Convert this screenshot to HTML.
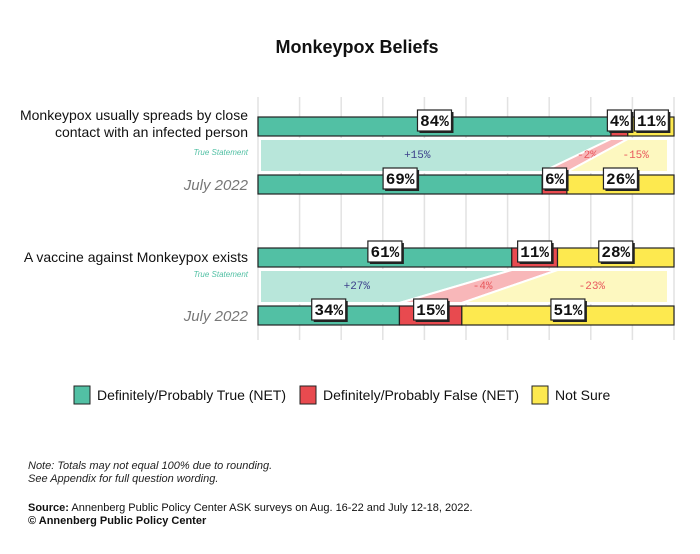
<!DOCTYPE html>
<html><head><meta charset="utf-8"><style>
body{margin:0;background:#fff;width:700px;height:549px;overflow:hidden;font-family:"Liberation Sans",sans-serif}
</style></head><body>
<svg id="c" width="700" height="549" viewBox="0 0 700 549" xmlns="http://www.w3.org/2000/svg">
<text x="357" y="53" text-anchor="middle" font-size="18" font-weight="bold" fill="#111">Monkeypox Beliefs</text>
<g id="grid"></g><g id="bands"></g><g id="bars"></g><g id="labels"></g>
<g font-size="14" fill="#111">
<rect x="74" y="386" width="16" height="18" fill="#52c0a4" stroke="#222"/>
<text x="97" y="400" textLength="189">Definitely/Probably True (NET)</text>
<rect x="300" y="386" width="16" height="18" fill="#e84a4f" stroke="#222"/>
<text x="323" y="400" textLength="196">Definitely/Probably False (NET)</text>
<rect x="532" y="386" width="16" height="18" fill="#fde94f" stroke="#222"/>
<text x="555" y="400">Not Sure</text>
</g>
<text x="28" y="469" font-size="11" font-style="italic" fill="#222">Note: Totals may not equal 100% due to rounding.</text>
<text x="28" y="482" font-size="11" font-style="italic" fill="#222">See Appendix for full question wording.</text>
<text x="28" y="511" font-size="11" fill="#111"><tspan font-weight="bold">Source:</tspan> Annenberg Public Policy Center ASK surveys on Aug. 16-22 and July 12-18, 2022.</text>
<text x="28" y="524" font-size="11" font-weight="bold" fill="#111">© Annenberg Public Policy Center</text>
</svg>
<script>
const questions=["Monkeypox usually spreads by close|contact with an infected person","A vaccine against Monkeypox exists"];
const aug=[[84,4,11],[61,11,28]];
const july=[[69,6,26],[34,15,51]];
const deltas=[["+15%","-2%","-15%"],["+27%","-4%","-23%"]];
const ticks=[0,10,20,30,40,50,60,70,80,90,100];
const NS="http://www.w3.org/2000/svg";
const X0=258,W=416;
const x=v=>X0+v/100*W;
const norm=a=>{const s=a.reduce((p,q)=>p+q,0);return a.map(v=>v*100/s);};
const cols=["#52c0a4","#e84a4f","#fde94f"],bandCols=["#b8e6da","#f8b7b9","#fdf8c0"],dCols=["#3b3f8a","#e8585d","#e8585d"];
function mk(p,tag,at){const e=document.createElementNS(NS,tag);for(const k in at)e.setAttribute(k,at[k]);document.getElementById(p).appendChild(e);return e;}
ticks.forEach(t=>{const l=mk('grid','line',{x1:x(t),x2:x(t),y1:97,y2:340,stroke:'#e2e2e2','stroke-width':1.5});

});
const rows=[117,248];
function bar(vals,y,name){const nv=norm(vals);let c=0;const cs=[];nv.forEach((v,i)=>{const r=mk('bars','rect',{x:x(c),y:y,width:x(c+v)-x(c),height:19,fill:cols[i],stroke:'#222','stroke-width':1.2});


cs.push([c,v]);c+=v;});
let pos=cs.map(([s,v])=>x(s+v/2));const ws=vals.map(v=>String(v).length*10+14);
for(let i=1;i<pos.length;i++){const min=pos[i-1]+ws[i-1]/2+ws[i]/2+3;if(pos[i]<min)pos[i]=min;}
for(let i=pos.length-1;i>=0;i--){if(i==pos.length-1&&pos[i]+ws[i]/2>x(100)-4)pos[i]=x(100)-4-ws[i]/2;if(i<pos.length-1&&pos[i]>pos[i+1]-ws[i+1]/2-ws[i]/2-3)pos[i]=pos[i+1]-ws[i+1]/2-ws[i]/2-3;}
vals.forEach((v,i)=>{const bx=pos[i]-ws[i]/2;mk('labels','rect',{x:bx+2,y:y-7+2,width:ws[i],height:21,fill:'#222'});
const b=mk('labels','rect',{x:bx,y:y-7,width:ws[i],height:21,fill:'#fff',stroke:'#222','stroke-width':1.2});


const t=mk('labels','text',{x:pos[i],y:y+9,'text-anchor':'middle','font-size':16,'font-weight':'bold','font-family':'Liberation Mono, monospace',fill:'#111'});t.textContent=v+'%';

});}
questions.forEach((q,k)=>{const y=rows[k];const y2=y+58;const na=norm(aug[k]),nj=norm(july[k]);
let a=0,b=0;[0,1,2].forEach(i=>{const a2=a+na[i],b2=b+nj[i];
const p=mk('bands','polygon',{points:`${x(a)+(i?0:2)},${y+22} ${Math.min(x(a2),x(100)-6)},${y+22} ${Math.min(x(b2),x(100)-6)},${y2-3} ${x(b)+(i?0:2)},${y2-3}`,fill:bandCols[i],stroke:'#fff','stroke-width':2});


const cx=(x(a)+x(a2)+x(b)+x(b2))/4;
const t=mk('bands','text',{x:cx,y:y+41,'text-anchor':'middle','font-size':11,'font-family':'Liberation Mono, monospace',fill:dCols[i]});t.textContent=deltas[k][i];


a=a2;b=b2;});
bar(aug[k],y,'aug-bar-'+k);bar(july[k],y2,'july-bar-'+k);
const lines=q.split('|');lines.forEach((ln,j)=>{const t=mk('labels','text',{x:248,y:(lines.length>1?y+3:y+14)+j*17,'text-anchor':'end','font-size':14,fill:'#111'});t.textContent=ln;

});
const ts=mk('labels','text',{x:248,y:y+(lines.length>1?38:29),'text-anchor':'end','font-size':8,'font-style':'italic',fill:'#52c0a4'});ts.textContent='True Statement';


const jl=mk('labels','text',{x:248,y:y2+15,'text-anchor':'end','font-size':15,'font-style':'italic',fill:'#777'});jl.textContent='July 2022';

});
</script>
</body></html>
